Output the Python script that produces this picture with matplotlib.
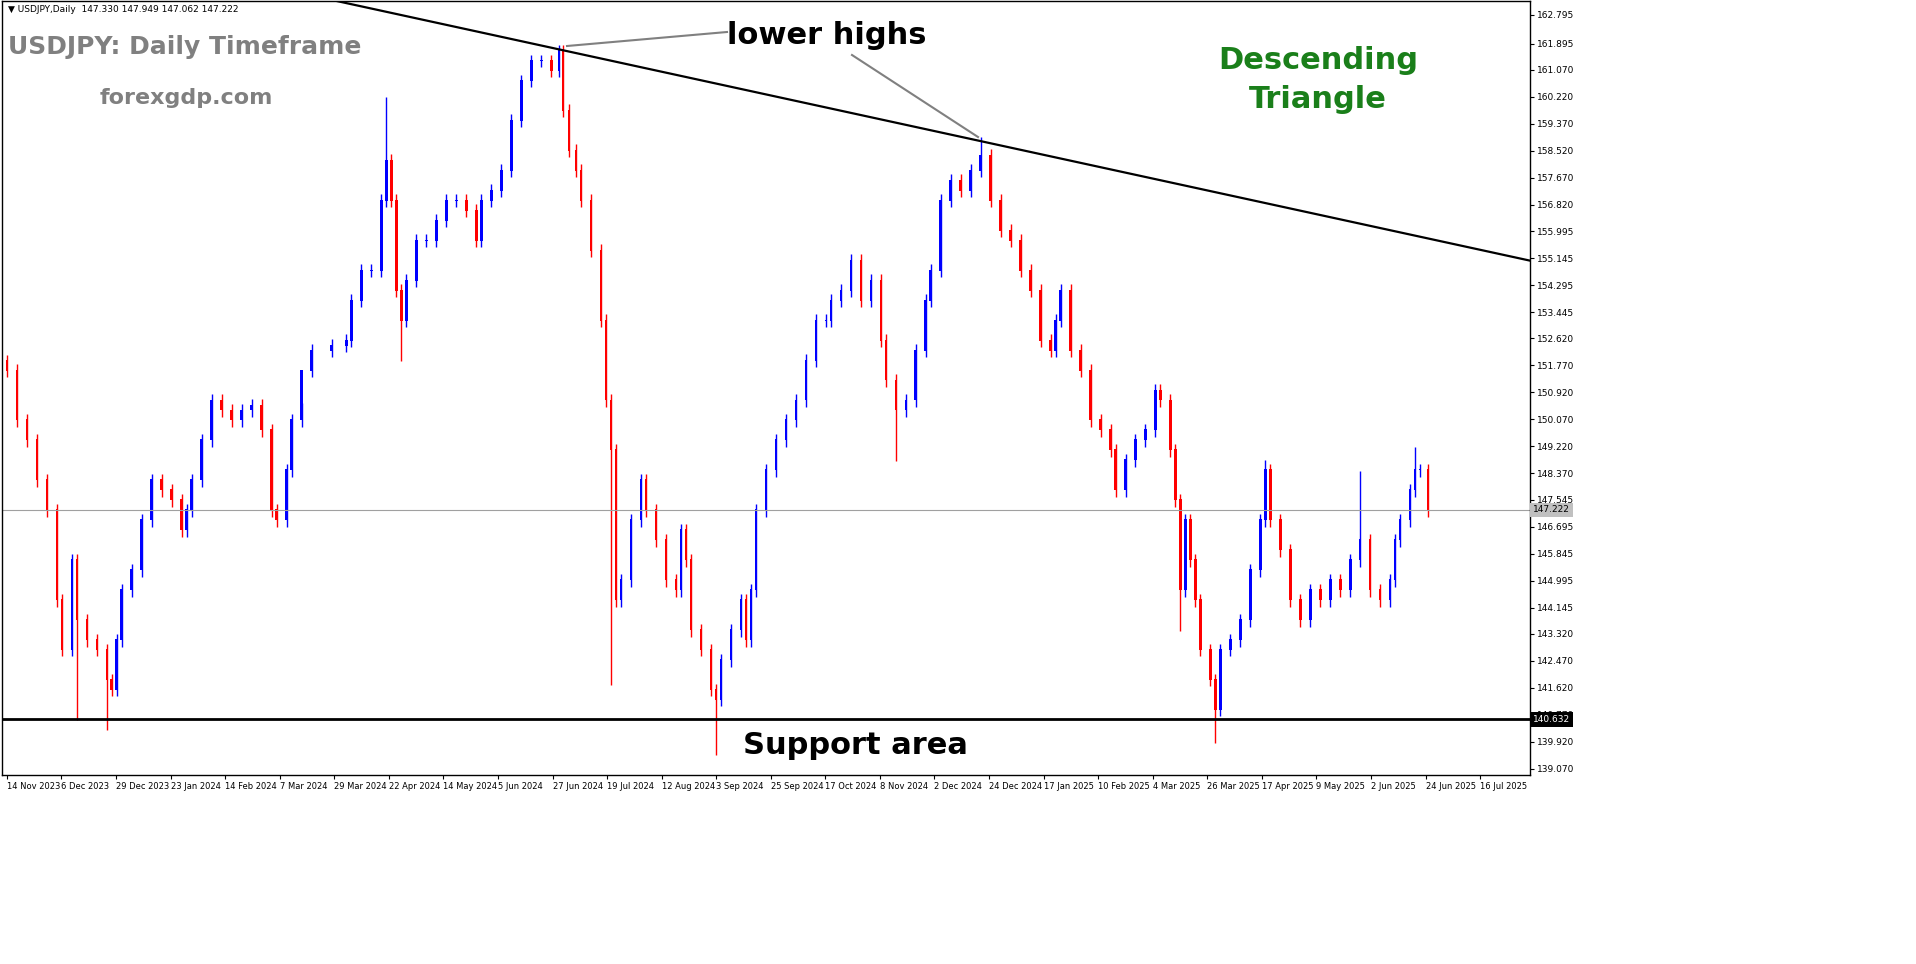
import numpy as np
import matplotlib
matplotlib.use("Agg")
from matplotlib import pyplot as plt

# chart sampled along the date axis (position on the 3.42 px/day MT4 scale) and close price
sample_px = [5, 15, 25, 35, 45, 55, 60, 70, 75, 85, 95, 105, 110, 115, 120, 130, 140, 150, 160, 170,
             180, 185, 190, 200, 210, 220, 230, 240, 250, 260, 270, 275, 285, 290, 300, 310, 330, 345,
             350, 360, 370, 380, 385, 390, 395, 400, 405, 415, 425, 435, 445, 455, 465, 475, 480, 490,
             500, 510, 520, 530, 540, 550, 558, 562, 568, 575, 580, 590, 600, 605, 610, 615, 620, 630,
             640, 645, 655, 665, 675, 680, 685, 690, 700, 710, 715, 720, 730, 740, 745, 750, 755, 765,
             775, 785, 795, 805, 815, 825, 830, 840, 850, 860, 870, 880, 885, 895, 905, 915, 925, 930,
             940, 950, 960, 970, 980, 990, 1000, 1010, 1020, 1030, 1040, 1050, 1055, 1060, 1070, 1080,
             1090, 1100, 1110, 1115, 1125, 1135, 1145, 1155, 1160, 1170, 1175, 1180, 1185, 1190, 1195,
             1200, 1210, 1215, 1220, 1230, 1240, 1250, 1260, 1265, 1270, 1280, 1290, 1300, 1310, 1320,
             1330, 1340, 1350, 1360, 1370, 1380, 1390, 1395, 1400, 1410, 1415, 1420, 1428]
close_y = [370, 420, 440, 480, 510, 600, 650, 560, 620, 640, 650, 680, 690, 640, 590, 570, 520, 480, 490, 500,
           530, 510, 480, 440, 400, 410, 420, 410, 405, 430, 510, 520, 470, 420, 370, 350, 345, 340,
           300, 270, 270, 200, 160, 200, 290, 320, 280, 240, 240, 220, 200, 200, 210, 240, 200, 190,
           170, 120, 80, 60, 60, 70, 50, 110, 150, 170, 200, 250, 320, 400, 450, 600, 580, 520,
           480, 510, 540, 580, 590, 530, 560, 630, 650, 690, 700, 660, 630, 600, 640, 590, 510, 470,
           440, 420, 400, 360, 320, 320, 300, 290, 260, 300, 280, 340, 380, 410, 400, 350, 300, 270,
           200, 180, 190, 170, 155, 200, 230, 240, 270, 290, 340, 350, 320, 290, 350, 370,
           420, 430, 450, 490, 460, 440, 430, 390, 400, 450, 500, 590, 520, 560, 600,
           650, 680, 710, 650, 640, 620, 570, 520, 470, 520, 550, 600, 620, 590, 600,
           580, 590, 560, 540, 590, 600, 580, 540, 520, 490, 470, 470, 510]
closes = [round(162.795 - (y - 14) / 31.82, 3) for y in close_y]

# notable wick extremes: sample position -> price
spike_high = {385: 160.20, 555: 161.96, 980: 158.95, 1265: 148.80, 1360: 148.45, 1415: 149.20, 300: 150.60}
spike_low = {610: 141.70, 715: 139.50, 1215: 139.90, 595: 152.0, 895: 148.75, 105: 140.30, 75: 140.60,
             400: 151.90, 1180: 143.40}

y_ticks = [162.795, 161.895, 161.070, 160.220, 159.370, 158.520, 157.670, 156.820, 155.995, 155.145,
           154.295, 153.445, 152.620, 151.770, 150.920, 150.070, 149.220, 148.370, 147.545, 146.695,
           145.845, 144.995, 144.145, 143.320, 142.470, 141.620, 140.770, 139.920, 139.070]
date_labels = ["14 Nov 2023", "6 Dec 2023", "29 Dec 2023", "23 Jan 2024", "14 Feb 2024", "7 Mar 2024",
               "29 Mar 2024", "22 Apr 2024", "14 May 2024", "5 Jun 2024", "27 Jun 2024", "19 Jul 2024",
               "12 Aug 2024", "3 Sep 2024", "25 Sep 2024", "17 Oct 2024", "8 Nov 2024", "2 Dec 2024",
               "24 Dec 2024", "17 Jan 2025", "10 Feb 2025", "4 Mar 2025", "26 Mar 2025", "17 Apr 2025",
               "9 May 2025", "2 Jun 2025", "24 Jun 2025", "16 Jul 2025"]
current_price = 147.222
support_price = 140.632

PX = 3.42  # pixels per trading day
day = (np.array(sample_px) - 5) / PX

fig = plt.figure(figsize=(19.16, 9.64), dpi=100)
ax = fig.add_axes([0.001, 1 - 775 / 964, 1530 / 1916 - 0.001, 775 / 964 - 0.001])
ax.set_xlim(-5 / PX, 1525 / PX)
ax.set_ylim(162.795 - 761 / 31.82, 162.795 + 14 / 31.82)

prev = closes[0] + 0.3
for i, (d, c) in enumerate(zip(day, closes)):
    col = "#0000ff" if c >= prev else "#ff0000"
    hi = max(c, prev) + 0.2
    lo = min(c, prev) - 0.2
    hi = spike_high.get(sample_px[i], hi)
    lo = spike_low.get(sample_px[i], lo)
    ax.vlines(d, lo, hi, color=col, lw=1)
    ax.bar(d, abs(c - prev) + 0.03, bottom=min(c, prev), width=0.75, color=col, lw=0)
    prev = c

# levels and trendline
ax.axhline(current_price, color="#a0a0a0", lw=0.8)
ax.axhline(support_price, color="black", lw=2)
tx = np.array([335, 1530])
ax.plot((tx - 5) / PX, [163.235, 163.235 - 260 / 31.82], color="black", lw=1.6)

# axes style
ax.yaxis.tick_right()
ax.set_yticks(y_ticks)
ax.set_yticklabels([f"{t:.3f}" for t in y_ticks], fontsize=6.5)
ax.set_xticks([(x - 5) / PX for x in np.linspace(5, 1480, len(date_labels))])
ax.set_xticklabels(date_labels, fontsize=6, ha="left")
ax.tick_params(length=3, pad=2)
for s in ax.spines.values():
    s.set_linewidth(1)

for price, fc, tc in [(current_price, "#c0c0c0", "black"), (support_price, "black", "white")]:
    ax.text(1.002, price, f"{price:.3f}", transform=ax.get_yaxis_transform(), fontsize=6.5,
            va="center", ha="left", color=tc, zorder=5, bbox=dict(fc=fc, ec="none", pad=2))

# annotations
fig.text(8 / 1916, 1 - 9 / 964, "▼ USDJPY,Daily  147.330 147.949 147.062 147.222", fontsize=6.5, va="center")
fig.text(8 / 1916, 1 - 47 / 964, "USDJPY: Daily Timeframe", fontsize=18, weight="bold",
         color="#808080", va="center")
fig.text(100 / 1916, 1 - 98 / 964, "forexgdp.com", fontsize=16, weight="bold", color="#808080", va="center")
fig.text(827 / 1916, 1 - 35 / 964, "lower highs", fontsize=22, weight="bold", ha="center", va="center")
fig.text(1318 / 1916, 1 - 80 / 964, "Descending\nTriangle", fontsize=22, weight="bold", color="#1a7f1a",
         ha="center", va="center", linespacing=1.4)
fig.text(855 / 1916, 1 - 745 / 964, "Support area", fontsize=22, weight="bold", ha="center", va="center")
for (x0, y0), (x1, y1) in [((727, 32), (567, 46)), ((852, 55), (978, 137))]:
    fig.add_artist(plt.Line2D([x0 / 1916, x1 / 1916], [1 - y0 / 964, 1 - y1 / 964],
                              color="#808080", lw=1.5))

fig.savefig("out.png", dpi=100)
